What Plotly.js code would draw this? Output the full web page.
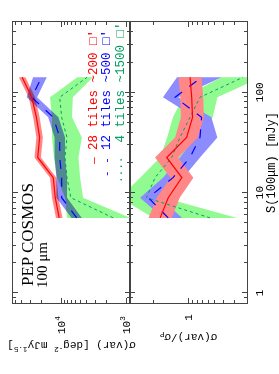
<!DOCTYPE html>
<html><head><meta charset="utf-8">
<script src="https://cdn.plot.ly/plotly-3.0.1.min.js"></script>
<style>
html,body{margin:0;padding:0;background:#fff;overflow:hidden;width:279px;height:374px;}
#plot{position:absolute;left:0;top:0;width:374px;height:279px;transform-origin:0 0;transform:translate(0px,374px) rotate(-90deg);}
#plot .subplot.x2y .js-fill{mix-blend-mode:multiply;}
</style></head><body><div id="plot"></div>
<script>
// flux bins S(100um) [mJy]
const flux = [5.6, 8.9, 14.1, 22.4, 35.5, 56.2, 89.1, 141];

// sigma(var) [deg^-2 mJy^1.5]
const varRed   = [10700, 12300, 13200, 22900, 21400, 24000, 28200, 39800];
const varRedLo = [9500, 11000, 11800, 20400, 19100, 21400, 25100, 35500];
const varRedHi = [12000, 13800, 14800, 25700, 24000, 26900, 31600, 44700];
const varBlue   = [5750, 9800, 9800, 10500, 10500, 13200, 28200, 20000];
const varBlueLo = [4800, 8100, 8100, 8700, 8700, 11000, 23400, 16600];
const varBlueHi = [6900, 11800, 11800, 12600, 12600, 15800, 33800, 27000];
const varGreen   = [1580, 7080, 8130, 8700, 8130, 9800, 10500, 3980];
const varGreenLo = [870, 4600, 5100, 5400, 4800, 6800, 6600, 3240];
const varGreenHi = [8100, 8700, 11500, 12900, 13800, 13800, 14800, 5620];

// sigma(var)/sigma_P
const ratRed   = [2.1, 1.70, 1.19, 1.77, 1.05, 0.90, 0.92, 0.96];
const ratRedLo = [1.55, 1.26, 0.88, 1.31, 0.78, 0.67, 0.68, 0.71];
const ratRedHi = [2.85, 2.3, 1.6, 2.4, 1.42, 1.22, 1.24, 1.3];
const ratBlue   = [1.70, 2.86, 1.5, 0.96, 0.74, 0.71, 1.42, 0.71];
const ratBlueLo = [1.18, 2.1, 1.15, 0.74, 0.47, 0.55, 1.3, 0.42];
const ratBlueHi = [1.95, 3.55, 1.95, 1.25, 0.84, 0.85, 1.95, 1.35];
const ratGreen   = [0.57, 3.0, 2.4, 1.55, 1.25, 0.96, 0.74, 0.24];
const ratGreenLo = [0.28, 1.9, 1.5, 0.89, 0.68, 0.53, 0.47, 0.15];
const ratGreenHi = [2.5, 6.0, 3.55, 2.1, 1.75, 1.5, 1.15, 0.42];

const legendNames = ['28 tiles ~200 \u25A1\u2032', '12 tiles ~500 \u25A1\u2032', ' 4 tiles ~1500 \u25A1\u2032'];
const legendGlyphs = ['\u2014', '- -', '\u00B7\u00B7\u00B7\u00B7'];

const xTickVals = [1, 10, 100];
const xTickText = ['1', '10', '100'];
const xMinor = [0.8, 0.9, 2, 3, 4, 5, 6, 7, 8, 9, 20, 30, 40, 50, 60, 70, 80, 90, 200, 300, 400, 500];
const yTickVals = [1000, 10000];
const yTickText = ['10<sup>3</sup>', '10<sup>4</sup>'];
const yMinor = [900, 2000, 3000, 4000, 5000, 6000, 7000, 8000, 9000, 20000, 30000, 40000, 50000];
const rTickVals = [1];
const rTickText = ['1'];
const rMinor = [0.3, 0.4, 0.5, 0.6, 0.7, 0.8, 0.9, 2.5];

const colRed = 'rgb(255,0,0)', colBlue = 'rgb(0,0,255)', colGreen = 'rgb(0,160,96)';
const bandRed = 'rgb(255,135,135)', bandBlue = 'rgb(140,140,255)', bandGreen = 'rgb(145,250,145)';

function band(lo, hi, color, xa, ya) {
  return {x: flux.concat(flux.slice().reverse()), y: hi.concat(lo.slice().reverse()),
    xaxis: xa, yaxis: ya, mode: 'lines', fill: 'toself', fillcolor: color,
    line: {width: 0, color: color}, hoverinfo: 'skip', showlegend: false};
}
function curve(y, color, dash, w, xa, ya) {
  return {x: flux, y: y, xaxis: xa, yaxis: ya, mode: 'lines',
    line: {color: color, dash: dash, width: w}, showlegend: false};
}

const traces = [
  band(varGreenLo, varGreenHi, bandGreen, 'x2', 'y'),
  band(varBlueLo, varBlueHi, bandBlue, 'x2', 'y'),
  band(varRedLo, varRedHi, bandRed, 'x2', 'y'),
  band(ratGreenLo, ratGreenHi, bandGreen, 'x', 'y2'),
  band(ratBlueLo, ratBlueHi, bandBlue, 'x', 'y2'),
  band(ratRedLo, ratRedHi, bandRed, 'x', 'y2'),
  curve(varGreen, colGreen, 'dot', 1, 'x2', 'y'),
  curve(varBlue, colBlue, 'dash', 1.2, 'x2', 'y'),
  curve(varRed, colRed, 'solid', 1.2, 'x2', 'y'),
  curve(ratGreen, colGreen, 'dot', 1, 'x', 'y2'),
  curve(ratBlue, colBlue, 'dash', 1.2, 'x', 'y2'),
  curve(ratRed, colRed, 'solid', 1.2, 'x', 'y2')
];

const mono = 'Liberation Mono, DejaVu Sans Mono, monospace';
const serif = 'Liberation Serif, DejaVu Serif, serif';
const axCommon = {
  showline: true, linecolor: '#444', linewidth: 1, mirror: 'ticks',
  ticks: 'inside', ticklen: 5, tickcolor: '#444', tickwidth: 1,
  showgrid: false, zeroline: false, tickfont: {family: mono, size: 11, color: '#000'},
  automargin: false
};
function minorOf(vals) {
  return {tickmode: 'array', tickvals: vals, ticks: 'inside', ticklen: 3, tickcolor: '#444', showgrid: false};
}

const legendColors = [colRed, colBlue, colGreen];
const legendY = [0.654, 0.598, 0.538];
const annotations = [];
legendNames.forEach((n, i) => {
  annotations.push({xref: 'paper', yref: 'paper', x: 0.537, y: legendY[i], xanchor: 'left', yanchor: 'middle',
    text: n, showarrow: false, font: {family: mono, size: 12.5, color: legendColors[i]}});
  annotations.push({xref: 'paper', yref: 'paper', x: 0.527, y: legendY[i], xanchor: 'right', yanchor: 'middle',
    text: legendGlyphs[i], showarrow: false, font: {family: mono, size: 11, color: legendColors[i]}});
});
annotations.push({xref: 'paper', yref: 'paper', x: 0.055, y: 0.936, xanchor: 'left', yanchor: 'middle',
  text: 'PEP COSMOS', showarrow: false, font: {family: serif, size: 17, color: '#000'}});
annotations.push({xref: 'paper', yref: 'paper', x: 0.048, y: 0.878, xanchor: 'left', yanchor: 'middle',
  text: '100 \u03BCm', showarrow: false, font: {family: serif, size: 15, color: '#000'}});

const layout = {
  width: 374, height: 279,
  margin: {l: 71, r: 22, t: 13, b: 32, pad: 0},
  paper_bgcolor: '#fff', plot_bgcolor: '#fff',
  showlegend: false,
  xaxis: Object.assign({}, axCommon, {type: 'log', range: [-0.1, 2.7], anchor: 'y2', domain: [0, 1],
    tickmode: 'array', tickvals: xTickVals, ticktext: xTickText, minor: minorOf(xMinor), ticklabelstandoff: 2,
    title: {text: 'S(100\u03BCm) [mJy]', font: {family: mono, size: 12, color: '#000'}, standoff: 4}}),
  xaxis2: Object.assign({}, axCommon, {type: 'log', range: [-0.1, 2.7], anchor: 'y', domain: [0, 1],
    tickmode: 'array', tickvals: xTickVals, ticktext: xTickText, minor: minorOf(xMinor), showticklabels: false}),
  yaxis: Object.assign({}, axCommon, {type: 'log', range: [2.94, 4.74], anchor: 'x2', domain: [0.5, 1],
    tickmode: 'array', tickvals: yTickVals, ticktext: yTickText, minor: minorOf(yMinor), ticklabelstandoff: 10,
    title: {text: '\u03C3(var) [deg<sup>-2</sup> mJy<sup>1.5</sup>]', font: {family: mono, size: 11, color: '#000'}, standoff: 5}}),
  yaxis2: Object.assign({}, axCommon, {type: 'log', range: [-0.665, 0.665], anchor: 'x', domain: [0, 0.5],
    tickmode: 'array', tickvals: rTickVals, ticktext: rTickText, minor: minorOf(rMinor), ticklabelstandoff: 8,
    title: {text: '\u03C3(var)/\u03C3<sub>P</sub>', font: {family: mono, size: 11, color: '#000'}, standoff: 10}}),
  annotations: annotations
};

Plotly.newPlot('plot', traces, layout, {staticPlot: true, displayModeBar: false});
</script></body></html>
